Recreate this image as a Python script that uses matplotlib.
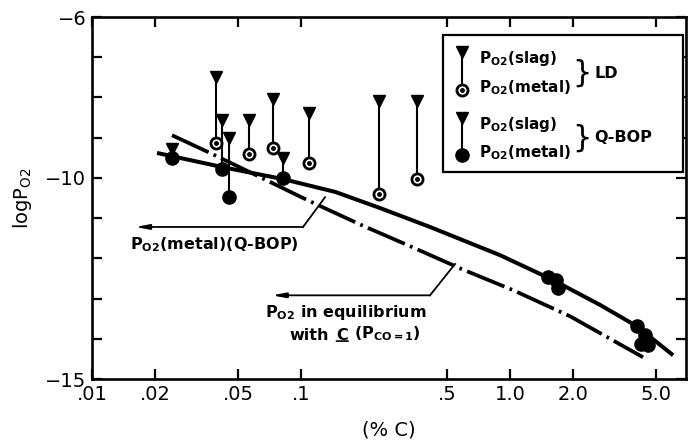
import numpy as np
import matplotlib
matplotlib.use('Agg')
import matplotlib.pyplot as plt
from matplotlib.patches import Rectangle

plt.rcParams['font.family'] = ['DejaVu Sans']
plt.rcParams['mathtext.fontset'] = 'dejavusans'
plt.rcParams['lines.scale_dashes'] = False

# LD heats: %C, log PO2 (slag), log PO2 (metal)
ld_c = [0.0392, 0.0564, 0.0735, 0.109, 0.236, 0.359]
ld_slag = [-7.49, -8.56, -8.04, -8.39, -8.09, -8.09]
ld_metal = [-9.13, -9.41, -9.26, -9.63, -10.40, -10.03]

# Q-BOP heats with slag and metal values
qb_c = [0.02415, 0.0419, 0.0452, 0.0820]
qb_slag = [-9.28, -8.56, -9.01, -9.51]
qb_metal = [-9.51, -9.78, -10.48, -10.00]

# Q-BOP metal only (high carbon)
qb2_c = [1.52, 1.66, 1.70, 4.05, 4.43, 4.24, 4.57]
qb2_metal = [-12.47, -12.54, -12.74, -13.69, -13.91, -14.13, -14.16]

# PO2(metal) Q-BOP curve
cur_c = [0.02047, 0.0419, 0.0820, 0.146, 0.239, 0.414, 0.895, 1.607, 2.70, 4.05, 6.03]
cur_p = [-9.38, -9.73, -10.03, -10.35, -10.75, -11.22, -11.92, -12.54, -13.16, -13.69, -14.41]

# equilibrium with C (PCO = 1)
eq_c = [0.02415, 0.0367, 0.0637, 0.107, 0.194, 0.340, 0.589, 1.033, 1.937, 4.33]
eq_p = [-8.94, -9.38, -9.98, -10.55, -11.17, -11.72, -12.27, -12.79, -13.44, -14.46]

xtick_vals = [0.01, 0.02, 0.05, 0.1, 0.5, 1.0, 2.0, 5.0]
xtick_labels = ['.01', '.02', '.05', '.1', '.5', '1.0', '2.0', '5.0']
ytick_vals = list(range(-15, -5))
ytick_labels = ['\u221215', '', '', '', '', '\u221210', '', '', '', '\u22126']

fig = plt.figure(figsize=(6.96, 4.48), dpi=100)
ax = fig.add_axes([92/696, 69/448, 594/696, 362/448])
ax.set_xscale('log')
ax.set_xlim(0.01, 6.95)
ax.set_ylim(-15, -6)

for s in ax.spines.values():
    s.set_linewidth(1.9)

ax.set_xticks(xtick_vals)
ax.set_xticklabels(xtick_labels)
ax.xaxis.set_minor_locator(matplotlib.ticker.NullLocator())
ax.set_yticks(ytick_vals)
ax.set_yticklabels(ytick_labels)
ax.tick_params(direction='in', length=7, width=1.6, labelsize=14,
               top=True, right=True, pad=4)

ax.set_xlabel('(% C)', fontsize=14, labelpad=12)
ax.set_ylabel(r'logP$_{\mathrm{O2}}$', fontsize=14, labelpad=8)

# curves
ax.plot(cur_c, cur_p, color='k', lw=2.9, solid_capstyle='butt',
        solid_joinstyle='round', zorder=3)
ax.plot(eq_c, eq_p, color='k', lw=2.7, dashes=(29, 4, 2, 4),
        dash_capstyle='butt', zorder=3)

# LD pairs
for c, s, m in zip(ld_c, ld_slag, ld_metal):
    ax.plot([c, c], [s, m], color='k', lw=1.5, zorder=4)
ax.plot(ld_c, ld_slag, 'v', color='k', ms=8, zorder=5)
ax.plot(ld_c, ld_metal, 'o', mfc='white', mec='k', mew=2.0, ms=8, zorder=5)
ax.plot(ld_c, ld_metal, 'o', color='k', ms=2.5, zorder=6)

# Q-BOP pairs
for c, s, m in zip(qb_c, qb_slag, qb_metal):
    ax.plot([c, c], [s, m], color='k', lw=1.5, zorder=4)
ax.plot(qb_c, qb_slag, 'v', color='k', ms=8, zorder=5)
ax.plot(qb_c, qb_metal, 'o', color='k', ms=9.5, zorder=5)
ax.plot(qb2_c, qb2_metal, 'o', color='k', ms=9.5, zorder=5)

# annotations
arrow = dict(arrowstyle='-|>,head_length=0.8,head_width=0.15', lw=1.3,
             color='k', shrinkA=0, shrinkB=0)
ax.annotate('', xy=(0.0161, -11.22), xytext=(0.1023, -11.22), arrowprops=arrow)
ax.plot([0.1023, 0.1303], [-11.22, -10.48], color='k', lw=1.3)
ax.text(0.0152, -11.67, r'P$_{\mathbf{O2}}$(metal)(Q-BOP)', fontsize=11.5,
        fontweight='bold', va='center', ha='left')

ax.annotate('', xy=(0.0726, -12.92), xytext=(0.414, -12.92), arrowprops=arrow)
ax.plot([0.414, 0.546], [-12.92, -12.14], color='k', lw=1.3)
ax.text(0.0673, -13.34, r'P$_{\mathbf{O2}}$ in equilibrium', fontsize=11.5,
        fontweight='bold', va='center', ha='left')
t1 = ax.text(0.0885, -14.02, 'with', fontsize=11.5, fontweight='bold',
             va='baseline', ha='left')
t2 = ax.annotate('C', xy=(1, 0), xycoords=t1, xytext=(5, 0),
                 textcoords='offset points', fontsize=11.5, fontweight='bold',
                 va='bottom', ha='left')
ax.annotate('', xy=(0, 0.1), xycoords=t2, xytext=(1, 0.1), textcoords=t2,
            arrowprops=dict(arrowstyle='-', lw=1.2, color='k',
                            shrinkA=0, shrinkB=0))
ax.annotate(r'(P$_{\mathbf{CO=1}}$)', xy=(1, 0), xycoords=t2, xytext=(4, 0),
            textcoords='offset points', fontsize=11.5, fontweight='bold',
            va='bottom', ha='left')


# legend box (pixel layout -> axes fraction)
def af(px, py):
    return ((px - 92) / 594, (379 - py) / 362)


x0, y0 = af(443, 172)
x1, y1 = af(683, 35)
ax.add_patch(Rectangle((x0, y0), x1 - x0, y1 - y0, transform=ax.transAxes,
                       fill=True, facecolor='white', edgecolor='k', lw=1.6,
                       zorder=7))

for (ty, cy, filled, group, gy) in [(52, 90, False, 'LD', 73), (118, 155, True, 'Q-BOP', 138)]:
    mx, ts = af(462, ty)
    _, cs = af(462, cy)
    ax.plot([mx, mx], [ts, cs], color='k', lw=1.5, transform=ax.transAxes, zorder=8)
    ax.plot([mx], [ts], 'v', color='k', ms=8, transform=ax.transAxes, zorder=9)
    if filled:
        ax.plot([mx], [cs], 'o', color='k', ms=9.5, transform=ax.transAxes, zorder=9)
    else:
        ax.plot([mx], [cs], 'o', mfc='white', mec='k', mew=2.0, ms=8,
                transform=ax.transAxes, zorder=9)
        ax.plot([mx], [cs], 'o', color='k', ms=2.5, transform=ax.transAxes, zorder=10)
    tx, tyy = af(479, ty + 6)
    ax.text(tx, tyy, r'P$_{\mathbf{O2}}$(slag)', fontsize=11, fontweight='bold',
            va='center', ha='left', transform=ax.transAxes, zorder=9)
    _, tcy = af(479, cy - 2)
    ax.text(tx, tcy, r'P$_{\mathbf{O2}}$(metal)', fontsize=11, fontweight='bold',
            va='center', ha='left', transform=ax.transAxes, zorder=9)
    bx, by = af(592, (ty + cy) / 2 + 2)
    ax.text(bx, by, '}', fontsize=22, va='center', ha='right',
            transform=ax.transAxes, zorder=9)
    gx, gyy = af(594, gy)
    ax.text(gx, gyy, group, fontsize=11.5, fontweight='bold', va='center',
            ha='left', transform=ax.transAxes, zorder=9)

fig.savefig('out.png', dpi=100)
